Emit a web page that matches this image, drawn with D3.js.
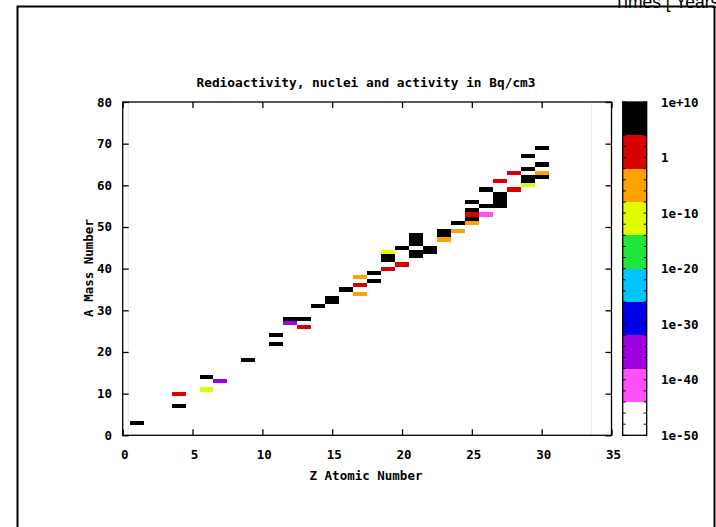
<!DOCTYPE html>
<html>
<head>
<meta charset="utf-8">
<script src="https://cdn.jsdelivr.net/npm/d3@7/dist/d3.min.js"></script>
<style>
  html, body { margin: 0; padding: 0; background: #fff; }
  svg { display: block; }
  .mono { font-family: "DejaVu Sans Mono", "Liberation Mono", monospace; font-weight: bold; font-size: 12.5px; fill: #000; }
</style>
</head>
<body>
<svg id="chart" width="716" height="527"></svg>
<script>
// Nuclides: atomic number Z, mass number A, activity in Bq/cm3
const zNumber = [1, 4, 4, 6, 6, 7, 9, 11, 11, 12, 12, 13, 13, 14, 15, 15, 16,
  17, 17, 17, 18, 18, 19, 19, 19, 19, 20, 20, 21, 21, 21, 21, 21, 22, 22,
  23, 23, 23, 24, 24, 25, 25, 25, 25, 25, 26, 26, 26, 27, 27, 27, 27, 27,
  28, 28, 29, 29, 29, 29, 29, 30, 30, 30, 30];
const aNumber = [3, 7, 10, 11, 14, 13, 18, 22, 24, 27, 28, 26, 28, 31, 32, 33, 35,
  34, 36, 38, 37, 39, 40, 42, 43, 44, 41, 45, 43, 44, 46, 47, 48, 44, 45,
  47, 48, 49, 49, 51, 51, 52, 53, 54, 56, 53, 55, 59, 55, 56, 57, 58, 61,
  59, 63, 60, 61, 62, 64, 67, 62, 63, 65, 69];
const activity = [3e6, 2e6, 5e0, 4e-11, 1e5, 2e-35, 6e7, 2e5, 8e6, 1e-35, 3e5, 2e1, 4e6, 1e6, 5e6, 2e6, 7e5,
  3e-6, 1e1, 4e-5, 2e5, 6e4, 3e0, 2e6, 9e5, 1e-11, 8e0, 4e5, 1e6, 3e6, 2e5, 6e5, 1e6, 5e4, 2e6,
  6e-6, 3e6, 1e5, 2e-5, 8e5, 1e-4, 2e6, 4e1, 5e5, 7e6, 5e-41, 3e5, 6e5, 1e6, 4e5, 2e5, 9e5, 6e1,
  2e0, 1e1, 3e-10, 5e5, 1e6, 4e6, 2e5, 8e5, 5e-4, 3e5, 1e6];

// Axis ranges and ticks
const xDomain = [0, 35];
const yDomain = [0, 80];
const xTicks = [0, 5, 10, 15, 20, 25, 30, 35];
const yTicks = [0, 10, 20, 30, 40, 50, 60, 70, 80];

// Colour bar: log10 range and its ten palette steps (low -> high)
const cbLogDomain = [-50, 10];
const cbTickLogs = [10, 0, -10, -20, -30, -40, -50];
const cbTickLabels = ["1e+10", "1", "1e-10", "1e-20", "1e-30", "1e-40", "1e-50"];
const palette = ["#ffffff", "#ff50fa", "#a000e0", "#0000e6", "#00c6ff",
  "#1ee63a", "#e2fc00", "#ffa200", "#d80000", "#000000"];

// Extent of the pm3d surface (faint edge lines)
const surfaceZ = [0.4, 33.57];

const svg = d3.select("#chart");
const plot = { left: 122.7, right: 611.5, top: 102, bottom: 435.3 };

const x = d3.scaleLinear().domain(xDomain).range([plot.left, plot.right]);
const y = d3.scaleLinear().domain(yDomain).range([plot.bottom, plot.top]);
const color = d3.scaleQuantize().domain(cbLogDomain).range(palette);

// Outer frame
svg.append("path")
  .attr("d", "M17.5,540 V6.5 H714.5 V540")
  .attr("fill", "none").attr("stroke", "#000").attr("stroke-width", 2);

svg.append("text")
  .attr("x", 614).attr("y", 8)
  .style("font-family", "'Liberation Sans', Arial, sans-serif")
  .style("font-size", "17.5px")
  .text("Times [ Years ]");

// Faint surface edges
svg.append("g").selectAll("line").data(surfaceZ).join("line")
  .attr("x1", d => x(d)).attr("x2", d => x(d))
  .attr("y1", plot.top).attr("y2", plot.bottom)
  .attr("stroke", "#ececec").attr("stroke-width", 1);

// Nuclide cells
const cells = zNumber.map((z, i) => ({ z, a: aNumber[i], v: activity[i] }));
svg.append("g").attr("shape-rendering", "crispEdges")
  .selectAll("rect").data(cells).join("rect")
  .attr("x", d => x(d.z - 0.5))
  .attr("y", d => y(d.a + 0.5))
  .attr("width", d => x(d.z + 0.5) - x(d.z - 0.5))
  .attr("height", d => y(d.a - 0.5) - y(d.a + 0.5))
  .attr("fill", d => color(Math.log10(d.v)));

// Axes with mirrored inward ticks
const tickLen = 6;
const axisG = svg.append("g");
axisG.append("rect")
  .attr("x", plot.left).attr("y", plot.top)
  .attr("width", plot.right - plot.left).attr("height", plot.bottom - plot.top)
  .attr("fill", "none").attr("stroke", "#000").attr("stroke-width", 1.3);

const bottomAxis = d3.axisBottom(x).tickValues(xTicks).tickSize(-tickLen).tickFormat("");
const topAxis = d3.axisTop(x).tickValues(xTicks).tickSize(-tickLen).tickFormat("");
const leftAxis = d3.axisLeft(y).tickValues(yTicks).tickSize(-tickLen).tickFormat("");
const rightAxis = d3.axisRight(y).tickValues(yTicks).tickSize(-tickLen).tickFormat("");

axisG.append("g").attr("transform", `translate(0,${plot.bottom})`).call(bottomAxis);
axisG.append("g").attr("transform", `translate(0,${plot.top})`).call(topAxis);
axisG.append("g").attr("transform", `translate(${plot.left},0)`).call(leftAxis);
axisG.append("g").attr("transform", `translate(${plot.right},0)`).call(rightAxis);
axisG.selectAll(".domain").remove();
axisG.selectAll(".tick line").attr("stroke", "#000").attr("stroke-width", 1.3);

// Tick labels
svg.append("g").selectAll("text").data(xTicks).join("text")
  .attr("class", "mono")
  .attr("x", d => x(d) + 2).attr("y", 454)
  .attr("text-anchor", "middle").attr("dominant-baseline", "central")
  .text(d => d);
svg.append("g").selectAll("text").data(yTicks).join("text")
  .attr("class", "mono")
  .attr("x", 112).attr("y", d => y(d))
  .attr("text-anchor", "end").attr("dominant-baseline", "central")
  .text(d => d);

// Titles
svg.append("text").attr("class", "mono")
  .attr("x", 366).attr("y", 82)
  .attr("text-anchor", "middle").attr("dominant-baseline", "central")
  .style("font-size", "12.8px")
  .text("Redioactivity, nuclei and activity in Bq/cm3");
svg.append("text").attr("class", "mono")
  .attr("x", 366).attr("y", 475)
  .attr("text-anchor", "middle").attr("dominant-baseline", "central")
  .text("Z Atomic Number");
svg.append("text").attr("class", "mono")
  .attr("transform", "translate(88,268) rotate(-90)")
  .attr("text-anchor", "middle").attr("dominant-baseline", "central")
  .text("A  Mass Number");

// Colour bar
const cb = { left: 622.7, right: 646.7 };
const cbScale = d3.scaleLinear().domain(cbLogDomain).range([plot.bottom, plot.top]);
const bandEdges = d3.range(palette.length + 1).map(i =>
  cbLogDomain[0] + i * (cbLogDomain[1] - cbLogDomain[0]) / palette.length);
const cbG = svg.append("g");
cbG.selectAll("rect").data(palette).join("rect")
  .attr("shape-rendering", "crispEdges")
  .attr("x", cb.left)
  .attr("y", (d, i) => cbScale(bandEdges[i + 1]))
  .attr("width", cb.right - cb.left)
  .attr("height", (d, i) => cbScale(bandEdges[i]) - cbScale(bandEdges[i + 1]))
  .attr("fill", d => d);

const minorLogs = d3.range(cbLogDomain[0], cbLogDomain[1] + 1, 2);
cbG.selectAll("line.minor").data(minorLogs).join("line")
  .attr("class", "minor")
  .attr("x1", cb.left).attr("x2", cb.left + 3)
  .attr("y1", d => cbScale(d)).attr("y2", d => cbScale(d))
  .attr("stroke", "#000").attr("stroke-width", 1);
cbG.selectAll("line.minorR").data(minorLogs).join("line")
  .attr("class", "minorR")
  .attr("x1", cb.right - 3).attr("x2", cb.right)
  .attr("y1", d => cbScale(d)).attr("y2", d => cbScale(d))
  .attr("stroke", "#000").attr("stroke-width", 1);
cbG.append("rect")
  .attr("x", cb.left).attr("y", plot.top)
  .attr("width", cb.right - cb.left).attr("height", plot.bottom - plot.top)
  .attr("fill", "none").attr("stroke", "#000").attr("stroke-width", 1.3);

cbG.selectAll("text").data(cbTickLogs).join("text")
  .attr("class", "mono")
  .attr("x", 661).attr("y", d => cbScale(d))
  .attr("dominant-baseline", "central")
  .text((d, i) => cbTickLabels[i]);
</script>
</body>
</html>
